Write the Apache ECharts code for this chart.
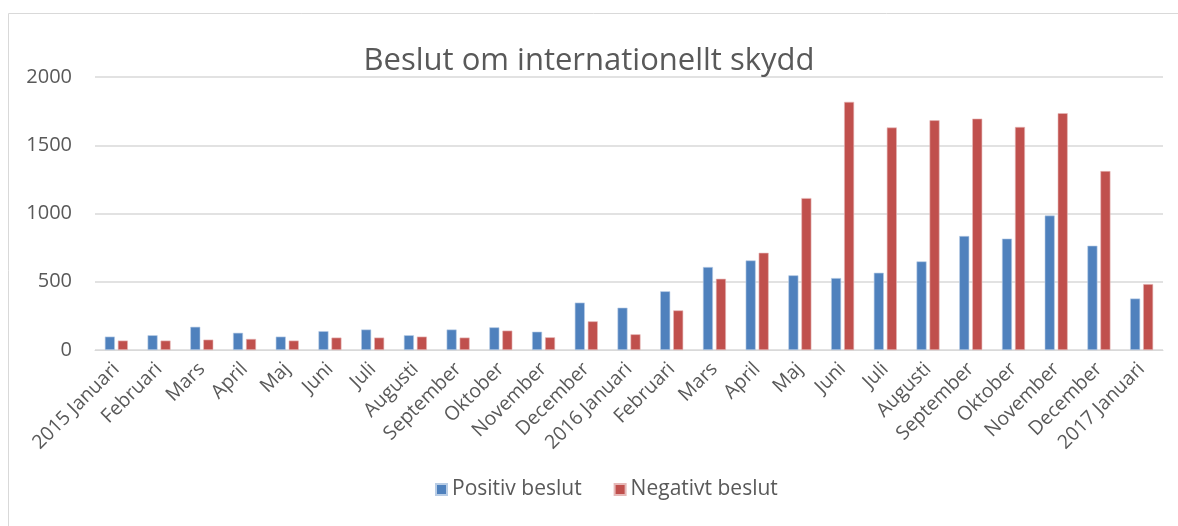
<!DOCTYPE html>
<html>
<head>
<meta charset="utf-8">
<title>Beslut om internationellt skydd</title>
<script src="https://cdn.jsdelivr.net/npm/echarts@6/dist/echarts.min.js"></script>
<style>
    html,body{margin:0;padding:0;background:#fff;}
    #main{width:1178px;height:526px;}
</style>
</head>
<body>
<div id="main"></div>
<script>
var months = ['2015 Januari','Februari','Mars','April','Maj','Juni','Juli','Augusti','September','Oktober','November','December',
    '2016 Januari','Februari','Mars','April','Maj','Juni','Juli','Augusti','September','Oktober','November','December','2017 Januari'];
var positiv = [98,108,170,126,98,138,150,108,150,166,134,347,310,430,608,656,547,527,566,649,835,816,985,764,377];
var negativ = [69,69,76,81,69,91,91,98,91,142,93,210,115,290,522,712,1113,1818,1630,1683,1695,1634,1735,1311,483];
var yTicks = [0, 500, 1000, 1500, 2000];

var font = 'Open Sans';
var chart = echarts.init(document.getElementById('main'));
var option = {
    animation: false,
    textStyle: {fontFamily: font},
    title: {
        text: 'Beslut om internationellt skydd',
        left: 'center',
        top: 41,
        textStyle: {fontSize: 31, fontWeight: 'normal', color: '#595959', fontFamily: font}
    },
    graphic: [{
        type: 'rect',
        shape: {x: 8.5, y: 13.5, width: 1180, height: 530},
        style: {fill: 'none', stroke: '#d9d9d9', lineWidth: 1},
        silent: true
    }],
    legend: {
        bottom: 21,
        left: 430,
        itemWidth: 11,
        itemHeight: 11,
        itemGap: 32,
        icon: 'rect',
        textStyle: {fontSize: 21, color: '#595959'},
        data: ['Positiv beslut', 'Negativt beslut']
    },
    grid: {left: 95, right: 15, top: 77, bottom: 176},
    xAxis: {
        type: 'category',
        data: months,
        axisLine: {lineStyle: {color: '#d9d9d9', width: 1}},
        axisTick: {show: false},
        axisLabel: {interval: 0, rotate: 45, fontSize: 19.5, color: '#595959', margin: 16}
    },
    yAxis: {
        type: 'value',
        min: yTicks[0],
        max: yTicks[yTicks.length - 1],
        interval: 500,
        axisLine: {show: false},
        axisTick: {show: false},
        axisLabel: {fontSize: 20, color: '#595959', margin: 23, formatter: function (v) { return String(v); }},
        splitLine: {lineStyle: {color: '#d9d9d9', width: 1.5}}
    },
    series: [
        {
            name: 'Positiv beslut',
            type: 'bar',
            data: positiv,
            barWidth: 10,
            barGap: '30%',
            itemStyle: {color: '#4f81bd', borderColor: '#b9cde5', borderWidth: 0.6}
        },
        {
            name: 'Negativt beslut',
            type: 'bar',
            data: negativ,
            barWidth: 10,
            itemStyle: {color: '#c0504d', borderColor: '#e6b9b8', borderWidth: 0.6}
        }
    ]
};
chart.setOption(option);
</script>
</body>
</html>
